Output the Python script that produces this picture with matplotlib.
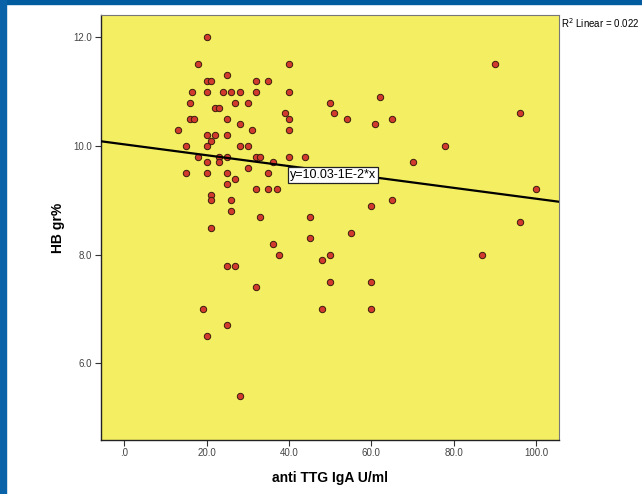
#! /usr/bin/env python3
"""
Scatter plot of HB against anti TTG IgA with a linear fit line,
drawn in the style of an SPSS chart export.
"""
from matplotlib import pyplot as plt
from matplotlib.patches import Rectangle
import numpy as np

# ============================================================================ #
# Data.
ttg = [20, 18, 40, 25, 20, 21, 32, 35,
       16.5, 20, 24, 26, 28, 32, 40,
       16, 27, 30, 22, 23, 39,
       40, 16, 17, 25, 28, 31, 40, 13,
       20, 22, 25, 21, 15, 20, 28, 30,
       18, 23, 25, 32, 33, 40, 44,
       20, 23, 36, 30, 15, 20, 25, 35,
       27, 25, 32, 35, 37, 21, 21, 26,
       26, 33, 45, 21, 45, 36, 37.5, 25, 27, 32,
       90, 62, 50, 51, 54, 61, 65, 96, 78, 70,
       100, 65, 60, 96, 55, 50, 48, 87, 50, 60, 48, 60,
       19, 25, 20, 28]
hb = [12.0, 11.5, 11.5, 11.3, 11.2, 11.2, 11.2, 11.2,
      11.0, 11.0, 11.0, 11.0, 11.0, 11.0, 11.0,
      10.8, 10.8, 10.8, 10.7, 10.7, 10.6,
      10.5, 10.5, 10.5, 10.5, 10.4, 10.3, 10.3, 10.3,
      10.2, 10.2, 10.2, 10.1, 10.0, 10.0, 10.0, 10.0,
      9.8, 9.8, 9.8, 9.8, 9.8, 9.8, 9.8,
      9.7, 9.7, 9.7, 9.6, 9.5, 9.5, 9.5, 9.5,
      9.4, 9.3, 9.2, 9.2, 9.2, 9.1, 9.0, 9.0,
      8.8, 8.7, 8.7, 8.5, 8.3, 8.2, 8.0, 7.8, 7.8, 7.4,
      11.5, 10.9, 10.8, 10.6, 10.5, 10.4, 10.5, 10.6, 10.0, 9.7,
      9.2, 9.0, 8.9, 8.6, 8.4, 8.0, 7.9, 8.0, 7.5, 7.5, 7.0, 7.0,
      7.0, 6.7, 6.5, 5.4]

# Fit line as printed on the chart: y = 10.03 - 1E-2 * x
intercept = 10.03
slope = -0.01
fit_label = 'y=10.03-1E-2*x'
r2_label = 'R$^2$ Linear = 0.022'

xticks = [0, 20, 40, 60, 80, 100]
xticklabels = ['.0', '20.0', '40.0', '60.0', '80.0', '100.0']
yticks = [6, 8, 10, 12]
yticklabels = ['6.0', '8.0', '10.0', '12.0']

# ============================================================================ #
# Plot.
plt.rcParams['font.family'] = ['Liberation Sans', 'DejaVu Sans']

fig = plt.figure(figsize=(6.42, 4.94), dpi=100)
ax = fig.add_axes([0.1569, 0.1093, 0.7143, 0.8603])
ax.set_facecolor('#f4ef62')

xmin, xmax = -5.73, 105.66
ax.set_xlim(xmin, xmax)
ax.set_ylim(4.59, 12.41)

ax.scatter(ttg, hb, s=21, c='#d23a2e', edgecolors='#3a1c0c',
           linewidths=0.7, zorder=3)

line_x = np.array([xmin, xmax])
ax.plot(line_x, intercept + slope * line_x, color='black', lw=1.6, zorder=4)

ax.text(50.7, 9.47, fit_label, ha='center', va='center', fontsize=9,
        zorder=5,
        bbox=dict(boxstyle='square,pad=0.15', fc='white', ec='#222222',
                  lw=0.9))

# ============================================================================ #
# Axes formatting.
ax.set_xticks(xticks)
ax.set_xticklabels(xticklabels)
ax.set_yticks(yticks)
ax.set_yticklabels(yticklabels)
ax.tick_params(length=4, width=0.8, color='#333333', labelsize=7,
               labelcolor='#444444', pad=2)

for side in ['left', 'bottom']:
    ax.spines[side].set_color('#222222')
    ax.spines[side].set_linewidth(1.0)
for side in ['top', 'right']:
    ax.spines[side].set_color('#777777')
    ax.spines[side].set_linewidth(0.8)

ax.set_xlabel('anti TTG IgA U/ml', fontsize=10, fontweight='bold')
ax.set_ylabel('HB gr%', fontsize=10, fontweight='bold')
ax.xaxis.set_label_coords(0.5, -0.072)
ax.yaxis.set_label_coords(-0.078, 0.5)

fig.text(0.874, 0.953, r2_label, fontsize=7, ha='left', va='center')

# Blue frame strips of the page the chart sits on.
fig.patches.append(Rectangle((0, 1 - 4 / 494), 1, 4 / 494,
                             transform=fig.transFigure, color='#005b9f'))
fig.patches.append(Rectangle((0, 0), 6 / 642, 1,
                             transform=fig.transFigure, color='#0a62a8'))

plt.savefig('out.png', dpi=100)
